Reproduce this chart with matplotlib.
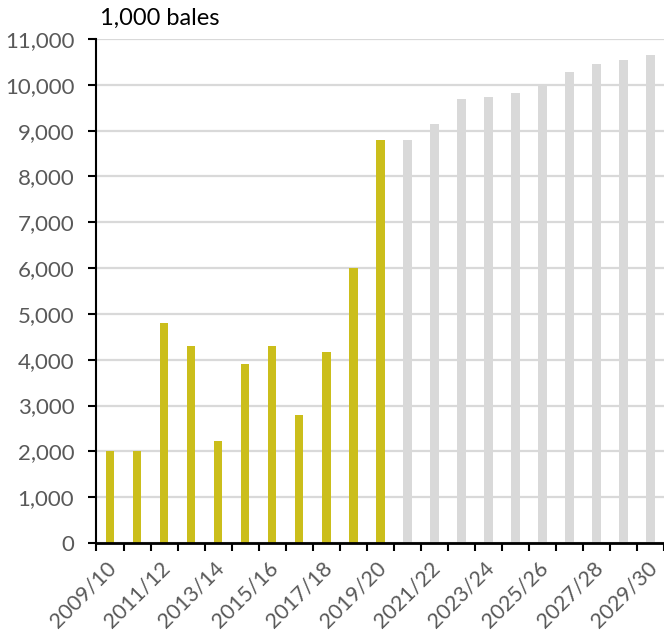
import matplotlib
matplotlib.use("Agg")
import matplotlib.pyplot as plt
from matplotlib.ticker import FuncFormatter, FixedLocator
from matplotlib.transforms import ScaledTranslation

plt.rcParams['font.family'] = ['Lato', 'DejaVu Sans']

seasons = ["2009/10", "2010/11", "2011/12", "2012/13", "2013/14", "2014/15",
           "2015/16", "2016/17", "2017/18", "2018/19", "2019/20", "2020/21",
           "2021/22", "2022/23", "2023/24", "2024/25", "2025/26", "2026/27",
           "2027/28", "2028/29", "2029/30"]
historical = [2000, 2000, 4800, 4300, 2230, 3910, 4310, 2800, 4170, 6000, 8800]
projected = [8800, 9150, 9700, 9740, 9830, 10000, 10290, 10460, 10550, 10640]
y_ticks = list(range(0, 11001, 1000))
unit_label = "1,000 bales"

hist_color = "#CBBE1B"
proj_color = "#D9D9D9"

fig = plt.figure(figsize=(6.64, 6.36), dpi=100)
ax = fig.add_axes([0.1453, 0.1462, 0.8547, 0.7925])

n_hist = len(historical)
xh = list(range(n_hist))
xp = list(range(n_hist, n_hist + len(projected)))
ax.bar(xh, historical, width=0.32, color=hist_color, zorder=3)
ax.bar(xp, projected, width=0.32, color=proj_color, zorder=3)

ax.set_xlim(-0.5, len(seasons) - 0.5)
ax.set_ylim(0, 11000)
ax.set_yticks(y_ticks)
ax.yaxis.set_major_formatter(FuncFormatter(lambda v, p: f"{int(v):,}"))
ax.grid(axis='y', color='#D9D9D9', linewidth=1.6, zorder=0)
ax.set_axisbelow(True)

label_pos = list(range(0, len(seasons), 2))
ax.xaxis.set_major_locator(FixedLocator(label_pos))
ax.set_xticklabels([seasons[i] for i in label_pos], rotation=45,
                   ha='right', va='center', rotation_mode='anchor')
ax.xaxis.set_minor_locator(FixedLocator([i - 0.5 for i in range(len(seasons) + 1)]))
ax.tick_params(axis='x', which='major', length=0, pad=16, labelsize=15.5,
               labelcolor='#595959')
ax.tick_params(axis='x', which='minor', length=6, width=1.5, color='black',
               direction='out')
ax.tick_params(axis='y', which='major', length=6, width=1.5, color='black',
               direction='out', labelsize=16, labelcolor='#595959', pad=10)

shift = ScaledTranslation(3 / 100, 0, fig.dpi_scale_trans)
for lbl in ax.get_xticklabels():
    lbl.set_transform(lbl.get_transform() + shift)

for s in ['top', 'right']:
    ax.spines[s].set_visible(False)
ax.spines['left'].set_linewidth(1.5)
ax.spines['bottom'].set_linewidth(2)
ax.spines['bottom'].set_zorder(4)

fig.text(100 / 664, 1 - 18 / 636, unit_label, fontsize=17, color='black',
         ha='left', va='center')

fig.savefig("out.png", dpi=100)
